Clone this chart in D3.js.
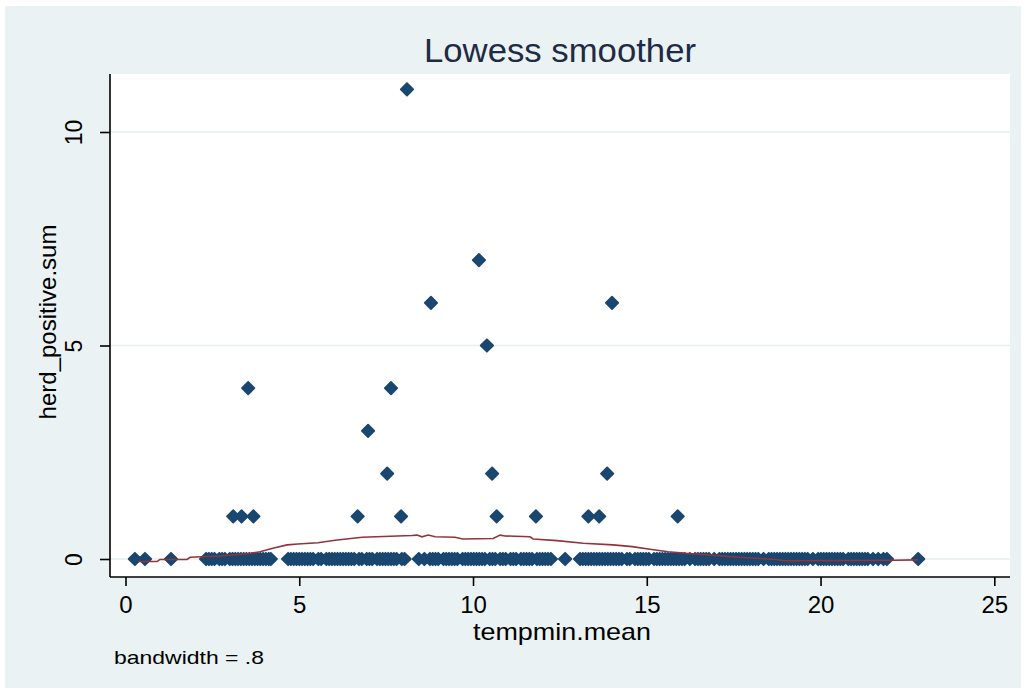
<!DOCTYPE html>
<html>
<head>
<meta charset="utf-8">
<script src="https://cdn.jsdelivr.net/npm/d3@7"></script>
<style>
  html, body { margin: 0; padding: 0; background: #ffffff; }
  svg { display: block; }
  text { font-family: "Liberation Sans", Arial, sans-serif; }
</style>
</head>
<body>
<div id="chart"></div>
<script>
// ---- data ----
const titleText = "Lowess smoother";
const xLabel = "tempmin.mean";
const yLabel = "herd_positive.sum";
const noteText = "bandwidth = .8";
const xTicks = [0, 5, 10, 15, 20, 25];
const yTicks = [0, 5, 10];

// points with herd_positive.sum > 0
const posX = [8.10, 10.17, 8.79, 14.00, 10.40, 3.53, 7.64, 6.98, 7.53, 10.55, 13.86,
              3.10, 3.34, 3.68, 6.68, 7.93, 10.68, 11.81, 13.32, 13.63, 15.89];
const posY = [11, 7, 6, 6, 5, 4, 4, 3, 2, 2, 2,
              1, 1, 1, 1, 1, 1, 1, 1, 1, 1];

// points with herd_positive.sum = 0
const zeroX = [0.27, 0.56, 1.31,
  2.32, 2.40, 2.48, 2.56, 2.70, 2.78, 2.86, 3.00, 3.08, 3.16, 3.24, 3.32, 3.40, 3.48,
  3.56, 3.64, 3.72, 3.80, 3.88, 3.96, 4.04, 4.12, 4.18,
  4.68, 4.76, 4.84, 4.92, 5.00, 5.08, 5.16, 5.24, 5.32, 5.40, 5.55, 5.63, 5.78, 5.86,
  5.94, 6.02, 6.10, 6.18, 6.26, 6.34, 6.42, 6.50, 6.58, 6.72, 6.80, 6.94, 7.02, 7.10,
  7.24, 7.32, 7.40, 7.48, 7.56, 7.64, 7.72, 7.80, 7.95, 8.03,
  8.44, 8.60, 8.76, 8.84, 8.92, 9.00, 9.15, 9.23, 9.31, 9.39, 9.47, 9.55, 9.70, 9.78,
  9.86, 9.94, 10.02, 10.10, 10.18, 10.26, 10.34, 10.48, 10.56, 10.64, 10.78, 10.86,
  10.94, 11.08, 11.16, 11.24, 11.38, 11.46, 11.54, 11.62, 11.70, 11.84, 11.92, 12.00,
  12.08, 12.16, 12.24,
  12.65,
  13.08, 13.16, 13.24, 13.32, 13.40, 13.48, 13.56, 13.64, 13.72, 13.80, 13.88, 13.96,
  14.04, 14.12, 14.20, 14.28, 14.43, 14.51, 14.66, 14.74, 14.82, 14.90, 14.98, 15.06,
  15.21, 15.29, 15.37, 15.45, 15.53, 15.61, 15.69, 15.77, 15.85, 15.93, 16.01, 16.09,
  16.24, 16.39, 16.47, 16.55, 16.63, 16.71, 16.79, 16.94, 17.09, 17.17, 17.25, 17.33,
  17.41, 17.49, 17.57, 17.65, 17.73, 17.81, 17.89, 17.97, 18.05, 18.13, 18.21, 18.36,
  18.51, 18.59, 18.67, 18.75, 18.83, 18.91, 18.99, 19.07, 19.15, 19.23, 19.31, 19.39,
  19.47, 19.55, 19.63, 19.78, 19.93, 20.01, 20.09, 20.17, 20.25, 20.33, 20.41, 20.49,
  20.57, 20.65, 20.80, 20.88, 20.96, 21.04, 21.12, 21.20, 21.28, 21.36, 21.51, 21.66,
  21.81, 21.91,
  22.81];

// lowess fitted curve
const lowessX = [0.36, 0.91, 0.99, 1.77, 1.86, 2.72, 3.58, 3.87, 4.24, 4.65, 4.96, 5.54,
  6.03, 6.81, 8.24, 8.39, 8.53, 8.71, 8.91, 9.48, 9.71, 10.58, 10.78, 10.92, 11.64, 11.73,
  12.42, 13.17, 14.03, 14.58, 15.09, 15.61, 16.19, 16.88, 17.63, 18.69, 18.98, 22.09, 22.81];
const lowessY = [-0.06, -0.06, -0.01, -0.01, 0.04, 0.07, 0.13, 0.17, 0.25, 0.33, 0.35, 0.38,
  0.44, 0.51, 0.55, 0.56, 0.52, 0.56, 0.52, 0.51, 0.47, 0.48, 0.56, 0.54, 0.52, 0.47,
  0.43, 0.37, 0.33, 0.29, 0.23, 0.17, 0.13, 0.09, 0.04, -0.01, -0.04, -0.03, -0.02];

// ---- drawing ----
const W = 1026, H = 693;
const plot = { left: 110, right: 1010, top: 74, bottom: 577 };
const svg = d3.select("#chart").append("svg").attr("width", W).attr("height", H);

svg.append("rect").attr("x", 5).attr("y", 6).attr("width", 1016).attr("height", 682)
  .attr("fill", "#eaf2f3");
svg.append("rect").attr("x", plot.left).attr("y", plot.top)
  .attr("width", plot.right - plot.left).attr("height", plot.bottom - plot.top)
  .attr("fill", "#ffffff");

const x = d3.scaleLinear().domain([0, 25]).range([125.5, 994.3]);
const y = d3.scaleLinear().domain([0, 10]).range([559, 132]);

// gridlines
svg.append("g").selectAll("line").data(yTicks).join("line")
  .attr("x1", plot.left).attr("x2", plot.right)
  .attr("y1", d => y(d)).attr("y2", d => y(d))
  .attr("stroke", "#e6eef1").attr("stroke-width", 1.5);

// y axis
const yAxis = svg.append("g").attr("transform", `translate(${plot.left},0)`)
  .call(d3.axisLeft(y).tickValues(yTicks).tickSize(10).tickSizeOuter(0).tickPadding(0));
yAxis.select(".domain").remove();
yAxis.selectAll(".tick line").attr("stroke", "#000").attr("stroke-width", 1.6);
yAxis.selectAll(".tick text").remove();
yAxis.selectAll(".tick").append("text")
  .attr("transform", "translate(-36,0) rotate(-90)")
  .attr("text-anchor", "middle").attr("dy", "0.35em")
  .attr("fill", "#000").attr("font-size", 23)
  .style("font-family", '"Liberation Sans", Arial, sans-serif')
  .text(d => d);
svg.append("line").attr("x1", plot.left).attr("x2", plot.left)
  .attr("y1", plot.top).attr("y2", plot.bottom)
  .attr("stroke", "#000").attr("stroke-width", 1.6);

// x axis
const xAxis = svg.append("g").attr("transform", `translate(0,${plot.bottom})`)
  .call(d3.axisBottom(x).tickValues(xTicks).tickSize(9).tickSizeOuter(0).tickPadding(10));
xAxis.select(".domain").remove();
xAxis.selectAll(".tick line").attr("stroke", "#000").attr("stroke-width", 1.6);
xAxis.selectAll(".tick text").attr("fill", "#000").attr("font-size", 24)
  .style("font-family", '"Liberation Sans", Arial, sans-serif');
svg.append("line").attr("x1", plot.left).attr("x2", plot.right)
  .attr("y1", plot.bottom).attr("y2", plot.bottom)
  .attr("stroke", "#000").attr("stroke-width", 1.6);

// markers
const diamond = "M0,-6.2L6.2,0L0,6.2L-6.2,0Z";
const pts = zeroX.map(v => [v, 0]).concat(posX.map((v, i) => [v, posY[i]]));
svg.append("g").selectAll("path").data(pts).join("path")
  .attr("d", diamond)
  .attr("transform", d => `translate(${x(d[0])},${y(d[1])})`)
  .attr("fill", "#1a476f").attr("stroke", "#1a476f").attr("stroke-width", 1.8)
  .attr("stroke-linejoin", "round");

// lowess line
const line = d3.line().x(d => x(d[0])).y(d => y(d[1]));
svg.append("path").datum(lowessX.map((v, i) => [v, lowessY[i]]))
  .attr("d", line).attr("fill", "none")
  .attr("stroke", "#90353b").attr("stroke-width", 1.6);

// texts
svg.append("text").attr("x", 560).attr("y", 62).attr("text-anchor", "middle")
  .attr("font-size", 33).attr("fill", "#1f2a44")
  .attr("textLength", 272).attr("lengthAdjust", "spacingAndGlyphs").text(titleText);
svg.append("text").attr("x", 562).attr("y", 640).attr("text-anchor", "middle")
  .attr("font-size", 24).attr("fill", "#000")
  .attr("textLength", 178).attr("lengthAdjust", "spacingAndGlyphs").text(xLabel);
svg.append("text").attr("transform", "translate(56,322) rotate(-90)")
  .attr("text-anchor", "middle").attr("font-size", 24).attr("fill", "#000").text(yLabel);
svg.append("text").attr("x", 114).attr("y", 664)
  .attr("font-size", 19).attr("fill", "#000")
  .attr("textLength", 150).attr("lengthAdjust", "spacingAndGlyphs").text(noteText);
</script>
</body>
</html>
